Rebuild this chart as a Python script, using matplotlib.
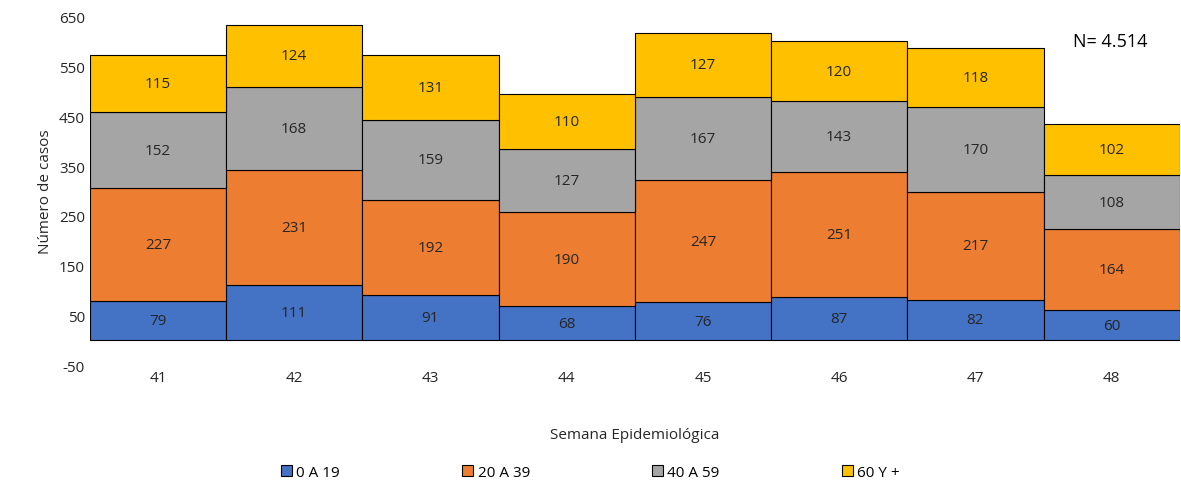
import matplotlib.pyplot as plt
import numpy as np

plt.rcParams['font.family'] = ['Open Sans', 'DejaVu Sans']
plt.rcParams['axes.unicode_minus'] = False

semanas = ["41", "42", "43", "44", "45", "46", "47", "48"]
g0_19 = [79, 111, 91, 68, 76, 87, 82, 60]
g20_39 = [227, 231, 192, 190, 247, 251, 217, 164]
g40_59 = [152, 168, 159, 127, 167, 143, 170, 108]
g60 = [115, 124, 131, 110, 127, 120, 118, 102]

series = [("0 A 19", g0_19, "#4472c4"), ("20 A 39", g20_39, "#ed7d31"),
          ("40 A 59", g40_59, "#a5a5a5"), ("60 Y +", g60, "#ffc000")]

fig = plt.figure(figsize=(11.81, 4.85), dpi=100)
ax = fig.add_axes([0.076, 0.245, 0.923, 0.718])
x = np.arange(len(semanas))
bottom = np.zeros(len(semanas))
for label, vals, color in series:
    ax.bar(x, vals, width=1.0, bottom=bottom, color=color, edgecolor="black",
           linewidth=0.8, label=label)
    for xi, b, v in zip(x, bottom, vals):
        ax.text(xi, b + v / 2, str(v), ha="center", va="center", fontsize=11, color="#262626")
    bottom += vals

ax.set_xlim(-0.5, len(semanas) - 0.5)
ax.set_ylim(-50, 650)
ax.set_yticks(range(-50, 651, 100))
ax.set_xticks(x)
ax.set_xticklabels(semanas)
ax.tick_params(length=0, labelsize=11, colors="#262626")
for s in ax.spines.values():
    s.set_visible(False)
ax.set_ylabel("Número de casos", fontsize=11, color="#262626")
ax.set_xlabel("Semana Epidemiológica", fontsize=11, color="#262626", labelpad=30)
ax.text(0.97, 0.93, "N= 4.514", transform=ax.transAxes, ha="right", va="center", fontsize=13)
fig.legend(loc="lower center", ncol=4, frameon=False, fontsize=11,
           bbox_to_anchor=(0.5, -0.02), handlelength=0.7, handleheight=0.7,
           handletextpad=0.3, columnspacing=8)
fig.savefig("out.png", dpi=100)
